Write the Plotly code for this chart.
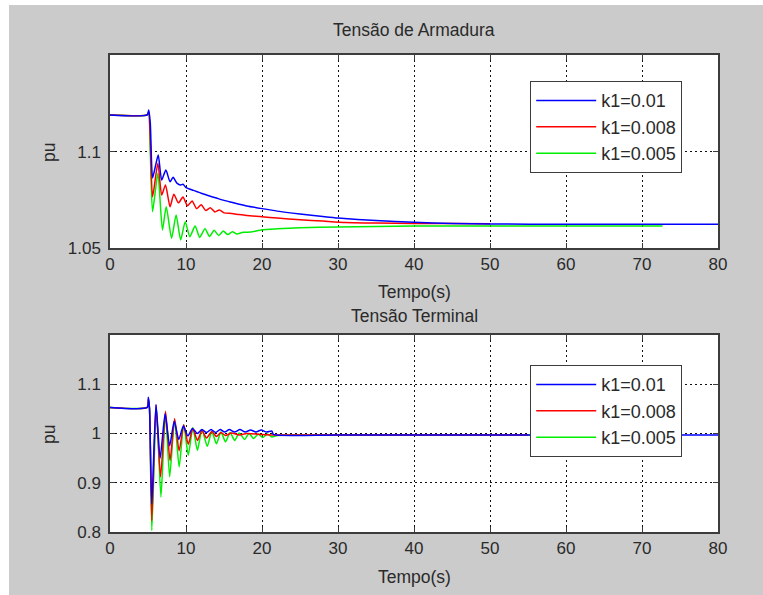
import plotly.graph_objects as go

# ---- Tensão de Armadura (armature voltage, pu) ----
t_arm_k010 = [0, 4.9, 5.1, 5.3, 5.6, 6.0, 6.35, 6.8, 7.35, 7.9, 8.3, 8.8, 9.3, 9.6, 10, 11, 12, 13, 14,
              15, 16, 17, 18, 20, 22, 25, 28, 30, 35, 40, 45, 50, 60, 80]
v_arm_k010 = [1.1193, 1.1193, 1.1219, 1.1150, 1.0865, 1.0930, 1.0984, 1.0854, 1.0906, 1.0845, 1.0868,
              1.0838, 1.0828, 1.0832, 1.0815, 1.0800, 1.0785, 1.0772, 1.0760, 1.0748, 1.0738, 1.0728,
              1.0719, 1.0705, 1.0692, 1.0677, 1.0664, 1.0656, 1.0643, 1.0634, 1.0628, 1.0625, 1.0624,
              1.0624]

t_arm_k008 = [0, 4.9, 5.1, 5.3, 5.6, 6.3, 6.8, 7.3, 7.9, 8.4, 9.0, 9.6, 10.2, 10.8, 11.4, 12.0, 12.6,
              13.2, 13.8, 14.4, 15, 16, 17, 18, 20, 22, 25, 28, 31, 35, 40, 45, 50]
v_arm_k008 = [1.1193, 1.1193, 1.1210, 1.1060, 1.0767, 1.0941, 1.0776, 1.0828, 1.0715, 1.0780, 1.0735,
              1.0765, 1.0720, 1.0745, 1.0705, 1.0725, 1.0695, 1.0710, 1.0688, 1.0698, 1.0683, 1.0680,
              1.0674, 1.0669, 1.0663, 1.0656, 1.0647, 1.0640, 1.0633, 1.0630, 1.0628, 1.0627, 1.0626]

t_arm_k005 = [0, 4.9, 5.1, 5.3, 5.6, 6.3, 6.9, 7.4, 8.1, 8.7, 9.3, 9.9, 10.5, 11.2, 11.8, 12.5, 13.1,
              13.7, 14.3, 14.9, 15.5, 16.1, 16.7, 17.5, 18.5, 20, 22, 25, 30, 35, 40, 50, 60, 72.7]
v_arm_k005 = [1.1193, 1.1193, 1.1210, 1.1000, 1.0689, 1.0889, 1.0594, 1.0715, 1.0551, 1.0672, 1.0542,
              1.0637, 1.0559, 1.0615, 1.0555, 1.0600, 1.0560, 1.0592, 1.0565, 1.0588, 1.0570, 1.0585,
              1.0573, 1.0582, 1.0583, 1.0595, 1.0600, 1.0605, 1.0610, 1.0612, 1.0614, 1.0615, 1.0615,
              1.0615]

# ---- Tensão Terminal (terminal voltage, pu) ----
t_ter_k010 = [0, 4.9, 5.05, 5.2, 5.5, 6.05, 6.6, 7.25, 7.85, 8.45, 9.05, 9.65, 10.25, 10.85, 11.5,
              12.1, 12.7, 13.3, 13.9, 14.5, 15.1, 15.7, 16.4, 17.1, 17.8, 18.5, 19.2, 19.9, 20.6,
              21.3, 21.5, 30, 80]
v_ter_k010 = [1.053, 1.053, 1.0735, 1.050, 0.857, 1.059, 0.950, 1.040, 0.975, 1.025, 0.988, 1.015,
              0.995, 1.010, 1.000, 1.008, 1.002, 1.008, 1.002, 1.008, 1.003, 1.008, 1.003, 1.008,
              1.003, 1.007, 1.003, 1.007, 1.003, 1.005, 0.998, 0.997, 0.997]

t_ter_k008 = [0, 4.9, 5.05, 5.2, 5.5, 6.05, 6.65, 7.3, 7.9, 8.5, 9.1, 9.7, 10.3, 10.9, 11.5, 12.1,
              12.7, 13.4, 14.0, 14.6, 15.2, 16, 17, 18, 20, 21.5, 30, 55]
v_ter_k008 = [1.053, 1.053, 1.070, 1.050, 0.823, 1.058, 0.912, 1.045, 0.945, 1.030, 0.965, 1.018,
              0.978, 1.010, 0.986, 1.006, 0.991, 1.004, 0.994, 1.002, 0.996, 1.001, 0.997, 1.000,
              0.998, 0.997, 0.997, 0.997]

t_ter_k005 = [0, 4.9, 5.05, 5.2, 5.5, 6.1, 6.7, 7.3, 7.85, 8.5, 9.1, 9.7, 10.3, 10.9, 11.5, 12.1,
              12.8, 13.4, 14.0, 14.6, 15.2, 15.8, 16.4, 17.0, 17.7, 18.3, 18.9, 19.5, 20.1, 20.7,
              21.3, 22, 25, 72.7]
v_ter_k005 = [1.053, 1.053, 1.068, 1.050, 0.803, 1.055, 0.871, 1.042, 0.912, 1.028, 0.932, 1.018,
              0.956, 1.012, 0.966, 1.008, 0.974, 1.005, 0.979, 1.003, 0.983, 1.002, 0.986, 1.001,
              0.988, 1.000, 0.990, 0.999, 0.992, 0.999, 0.993, 0.996, 0.997, 0.997]

legend_names = ["k1=0.01", "k1=0.008", "k1=0.005"]
line_colors = ["#0000ff", "#ff0000", "#00ee00"]

x_ticks = [0, 10, 20, 30, 40, 50, 60, 70, 80]
arm_ticks = [1.05, 1.1]
arm_tick_text = ["1.05", "1.1"]
ter_ticks = [0.8, 0.9, 1.0, 1.1]
ter_tick_text = ["0.8", "0.9", "1", "1.1"]

FONT = "Liberation Sans, Arial, sans-serif"
TXT = "#2a2a2a"
BOX = "#3c3c3c"

# figure pixel geometry
W, H = 763, 595
L_PX, R_PX = 110, 718          # plot area left / right edge
TOP_PX, BOT_PX = 55, 532       # top of upper axes / bottom of lower axes
UPPER_BOT_PX = 248
LOWER_TOP_PX = 335


def py(p):
    """pixel row -> paper y"""
    return (BOT_PX - p) / (BOT_PX - TOP_PX)


def px(p):
    """pixel column -> paper x"""
    return (p - L_PX) / (R_PX - L_PX)


fig = go.Figure()

arm_series = [(t_arm_k010, v_arm_k010), (t_arm_k008, v_arm_k008), (t_arm_k005, v_arm_k005)]
ter_series = [(t_ter_k010, v_ter_k010), (t_ter_k008, v_ter_k008), (t_ter_k005, v_ter_k005)]

# draw k1=0.005 first so k1=0.01 ends up on top
for i in (2, 1, 0):
    t, v = arm_series[i]
    fig.add_trace(go.Scatter(x=t, y=v, mode="lines", name=legend_names[i],
                             line=dict(color=line_colors[i], width=1.5, shape="spline", smoothing=0.6),
                             xaxis="x", yaxis="y", legend="legend", legendrank=i + 1))
for i in (2, 1, 0):
    t, v = ter_series[i]
    fig.add_trace(go.Scatter(x=t, y=v, mode="lines", name=legend_names[i],
                             line=dict(color=line_colors[i], width=1.5, shape="spline", smoothing=0.6),
                             xaxis="x2", yaxis="y2", legend="legend2", legendrank=i + 1))

axis_common = dict(
    showline=True, linecolor=BOX, linewidth=1.5, mirror="ticks",
    ticks="inside", ticklen=5, tickwidth=1, tickcolor=BOX,
    showgrid=True, gridcolor="#111111", gridwidth=1.2, griddash="2px,3px",
    zeroline=False, tickfont=dict(family=FONT, size=17, color=TXT),
)

upper_dom = [py(UPPER_BOT_PX), 1.0]
lower_dom = [0.0, py(LOWER_TOP_PX)]

legend_style = dict(xanchor="left", yanchor="top", bgcolor="#ffffff", bordercolor=BOX,
                    borderwidth=1.2, font=dict(family=FONT, size=18, color=TXT),
                    itemwidth=60, traceorder="normal")

fig.update_layout(
    width=W, height=H,
    margin=dict(l=L_PX, r=W - R_PX, t=TOP_PX, b=H - BOT_PX, pad=0),
    paper_bgcolor="#cbcbcb", plot_bgcolor="#ffffff",
    xaxis=dict(axis_common, domain=[0, 1], anchor="y", range=[0, 80],
               tickvals=x_ticks, ticktext=[str(v) for v in x_ticks]),
    yaxis=dict(axis_common, domain=upper_dom, anchor="x", range=[1.05, 1.1505],
               tickvals=arm_ticks, ticktext=arm_tick_text, ticklabelstandoff=4),
    xaxis2=dict(axis_common, domain=[0, 1], anchor="y2", range=[0, 80],
                tickvals=x_ticks, ticktext=[str(v) for v in x_ticks]),
    yaxis2=dict(axis_common, domain=lower_dom, anchor="x2", range=[0.8, 1.2],
                tickvals=ter_ticks, ticktext=ter_tick_text, ticklabelstandoff=4),
    legend=dict(legend_style, x=px(530), y=py(81)),
    legend2=dict(legend_style, x=px(530), y=py(365)),
    showlegend=True,
)

# white strips along the top and left edges of the figure window
fig.add_shape(type="rect", xref="paper", yref="paper", layer="below",
              x0=px(-5), x1=px(9), y0=py(H + 5), y1=py(-5),
              fillcolor="#ffffff", line=dict(width=0))
fig.add_shape(type="rect", xref="paper", yref="paper", layer="below",
              x0=px(-5), x1=px(W + 5), y0=py(5), y1=py(-5),
              fillcolor="#ffffff", line=dict(width=0))

texts = [
    ("Tensão de Armadura", px(414), py(30), 0),
    ("Tempo(s)", px(414), py(292), 0),
    ("Tensão Terminal", px(414), py(316), 0),
    ("Tempo(s)", px(414), py(577), 0),
    ("pu", px(49), py(152), -90),
    ("pu", px(49), py(434), -90),
]
for s, x, y, ang in texts:
    fig.add_annotation(text=s, x=x, y=y, xref="paper", yref="paper",
                       xanchor="center", yanchor="middle", showarrow=False,
                       textangle=ang, font=dict(family=FONT, size=17.5, color=TXT))

fig.write_html("out.html")
